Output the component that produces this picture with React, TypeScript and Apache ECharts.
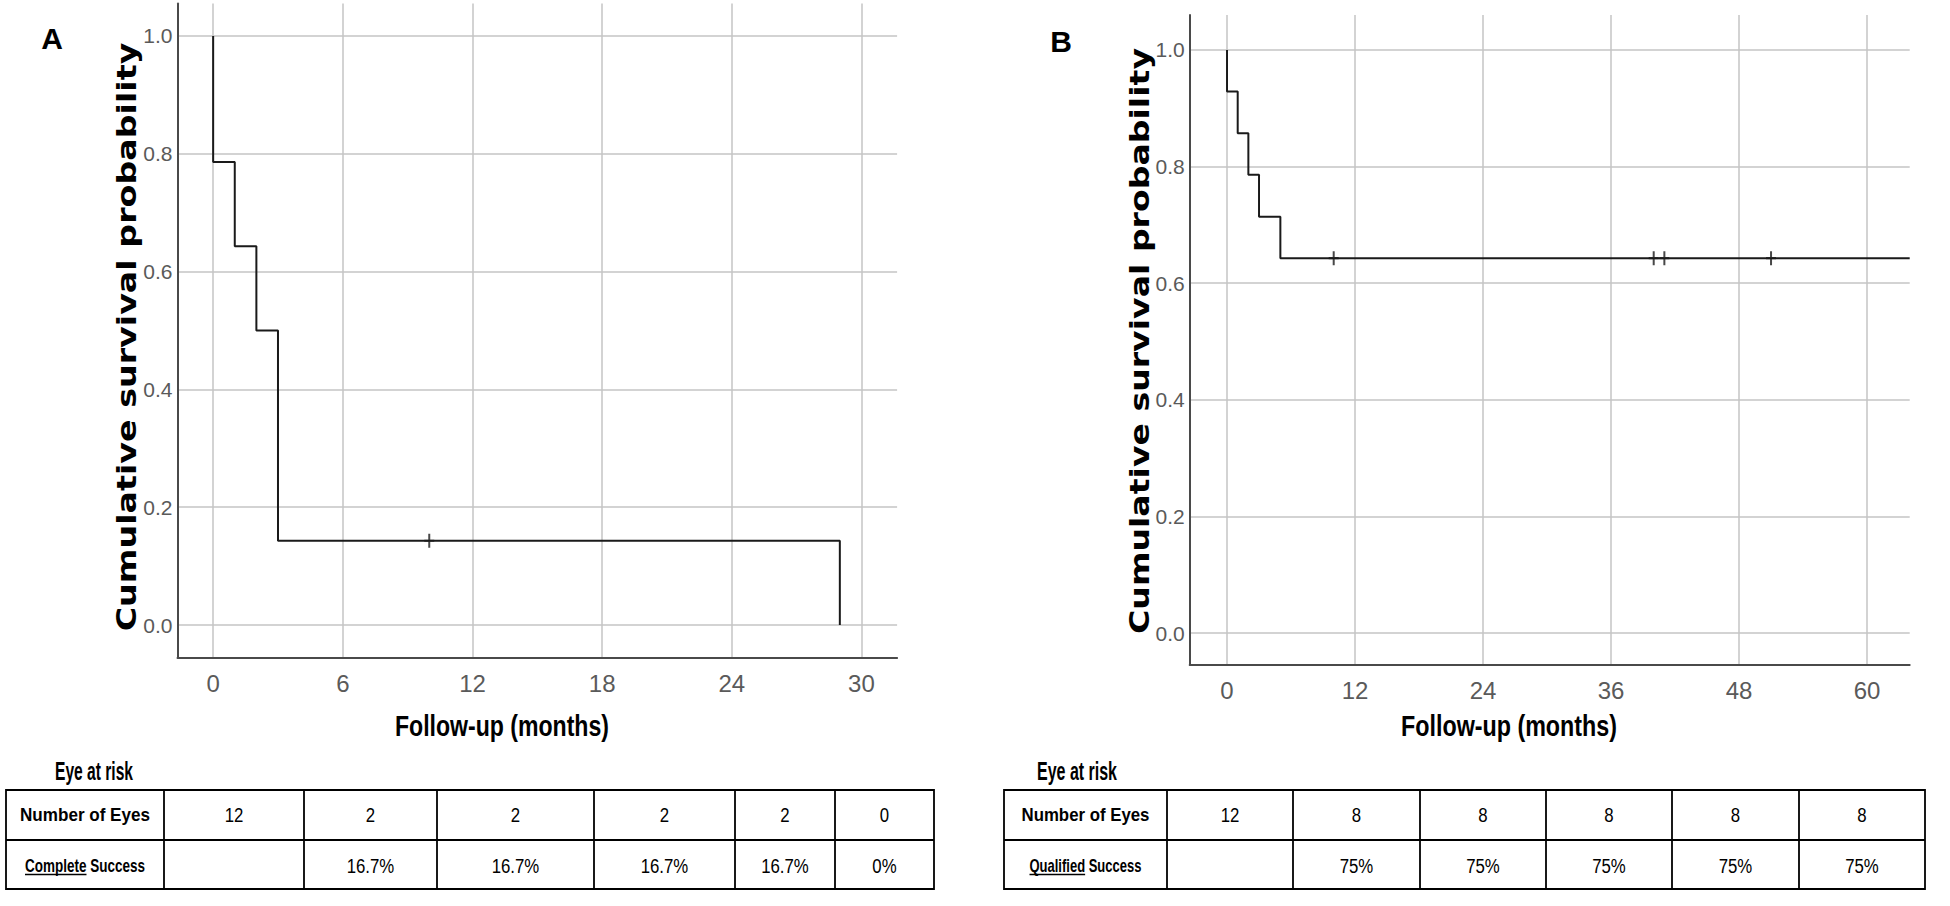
import React, { useEffect, useRef } from "react";
import * as echarts from "echarts";

// ---------- data ----------
const yTicks = [0, 0.2, 0.4, 0.6, 0.8, 1.0];
const xTicksA = [0, 6, 12, 18, 24, 30];
const xTicksB = [0, 12, 24, 36, 48, 60];

const timesA = [0, 0, 1, 2, 3, 29];
const survA = [1, 0.786, 0.643, 0.5, 0.143, 0];
const censorTimesA = [10];
const censorSurvA = [0.143];

const timesB = [0, 0, 1, 2, 3, 5, 64];
const survB = [1, 0.929, 0.857, 0.786, 0.714, 0.643, 0.643];
const censorTimesB = [10, 40, 41, 51];
const censorSurvB = [0.643, 0.643, 0.643, 0.643];

const yTitle = "Cumulative survival probability";
const xTitle = "Follow-up (months)";
const riskTitle = "Eye at risk";
const eyesLabel = "Number of Eyes";
const eyesA = ["12", "2", "2", "2", "2", "0"];
const successA = ["", "16.7%", "16.7%", "16.7%", "16.7%", "0%"];
const successLabelA = ["Complete", "Success"];
const eyesB = ["12", "8", "8", "8", "8", "8"];
const successB = ["", "75%", "75%", "75%", "75%", "75%"];
const successLabelB = ["Qualified", "Success"];

// ---------- layout / styles ----------
const colEdgesA = [6, 164, 304, 437, 594, 735, 835, 934];
const colEdgesB = [1004, 1167, 1293, 1420, 1546, 1672, 1799, 1925];

const LABEL_FAMILY = '"Liberation Sans", Arial, sans-serif';
const NARROW = '"Liberation Sans Narrow", "Liberation Sans", Arial, sans-serif';
const WIDE = '"DejaVu Sans", Verdana, sans-serif';
const GRID_COLOR = "#c4c4c4";
const AXIS_COLOR = "#4a4a4a";
const LABEL_COLOR = "#5a5a5a";
const CURVE_COLOR = "#1a1a1a";

let ctx: CanvasRenderingContext2D | null = null;
function measure(text: string, font: string): number {
  if (!ctx) ctx = document.createElement("canvas").getContext("2d");
  ctx!.font = font;
  return ctx!.measureText(text).width;
}

function zip(a: number[], b: number[]) {
  return a.map((v, i) => [v, b[i]]);
}

function fittedText(text: string, font: string, x: number, y: number, target: number, rotate = 0) {
  const w = measure(text, font);
  return {
    type: "text",
    x,
    y,
    rotation: rotate,
    scaleX: target / w,
    silent: true,
    style: { text, font, fill: "#000", align: "center", verticalAlign: "middle" },
  };
}

function buildTable(cfg: {
  edges: number[]; y0: number; yMid: number; y1: number;
  eyes: string[]; success: string[]; successLabel: string[];
  eyesW: number; successW: number;
}) {
  const els: any[] = [];
  const lw = 1.8;
  const e = cfg.edges;
  const x0 = e[0];
  const x1 = e[e.length - 1];
  els.push({
    type: "rect",
    silent: true,
    shape: { x: x0, y: cfg.y0, width: x1 - x0, height: cfg.y1 - cfg.y0 },
    style: { fill: "rgba(0,0,0,0)", stroke: "#000", lineWidth: lw },
  });
  els.push({
    type: "line",
    silent: true,
    shape: { x1: x0, y1: cfg.yMid, x2: x1, y2: cfg.yMid },
    style: { stroke: "#000", lineWidth: lw },
  });
  for (let i = 1; i < e.length - 1; i++) {
    els.push({
      type: "line",
      silent: true,
      shape: { x1: e[i], y1: cfg.y0, x2: e[i], y2: cfg.y1 },
      style: { stroke: "#000", lineWidth: lw },
    });
  }
  const r1 = (cfg.y0 + cfg.yMid) / 2;
  const r2 = (cfg.yMid + cfg.y1) / 2 + 1;
  const labelFont = `bold 18px ${LABEL_FAMILY}`;
  const valueFont = `21px ${LABEL_FAMILY}`;
  const lc = (e[0] + e[1]) / 2;
  els.push(fittedText(eyesLabel, labelFont, lc, r1, cfg.eyesW));
  // success label (first word underlined)
  const full = cfg.successLabel.join(" ");
  const fullW = measure(full, labelFont);
  const firstW = measure(cfg.successLabel[0], labelFont);
  const sx = cfg.successW / fullW;
  const xs = lc - cfg.successW / 2;
  els.push({
    type: "text", silent: true, x: xs, y: r2, scaleX: sx,
    style: { text: full, font: labelFont, fill: "#000", align: "left", verticalAlign: "middle" },
  });
  els.push({
    type: "line", silent: true,
    shape: { x1: xs, y1: r2 + 9, x2: xs + firstW * sx, y2: r2 + 9 },
    style: { stroke: "#000", lineWidth: 1.5 },
  });
  const n = cfg.eyes.length;
  for (let i = 0; i < n; i++) {
    const cx = (e[i + 1] + e[i + 2]) / 2;
    els.push({
      type: "text", silent: true, x: cx, y: r1, scaleX: 0.8,
      style: { text: cfg.eyes[i], font: valueFont, fill: "#000", align: "center", verticalAlign: "middle" },
    });
    if (cfg.success[i]) {
      els.push({
        type: "text", silent: true, x: cx, y: r2, scaleX: 0.8,
        style: { text: cfg.success[i], font: valueFont, fill: "#000", align: "center", verticalAlign: "middle" },
      });
    }
  }
  return els;
}

function xAxisCfg(grid: number, min: number, max: number, ticks: number[]) {
  return {
    gridIndex: grid,
    type: "value",
    min,
    max,
    axisLine: { show: true, onZero: false, lineStyle: { color: AXIS_COLOR, width: 2 } },
    axisTick: { show: false, customValues: ticks },
    axisLabel: { customValues: ticks, fontSize: 24, margin: 14, color: LABEL_COLOR, fontFamily: NARROW },
    splitLine: { show: true, lineStyle: { color: GRID_COLOR, width: 1.5 } },
  };
}

function yAxisCfg(grid: number, min: number, max: number) {
  return {
    gridIndex: grid,
    type: "value",
    min,
    max,
    axisLine: { show: true, onZero: false, lineStyle: { color: AXIS_COLOR, width: 2 } },
    axisTick: { show: false, customValues: yTicks },
    axisLabel: {
      customValues: yTicks,
      fontSize: 21,
      margin: 5,
      color: LABEL_COLOR,
      fontFamily: NARROW,
      formatter: (v: number) => v.toFixed(1),
    },
    splitLine: { show: true, lineStyle: { color: GRID_COLOR, width: 1.5 } },
  };
}

const censorSymbol = "path://M-1,-7H1V-1H5V1H1V7H-1V1H-5V-1H-1Z";

export default function App() {
  const ref = useRef<HTMLDivElement>(null);
  useEffect(() => {
    if (!ref.current) return;
    const chart = echarts.init(ref.current, null, { renderer: "svg" });

    const titleFontY = `bold 27px ${WIDE}`;
    const titleFontX = `bold 29px ${LABEL_FAMILY}`;
    const riskFont = `bold 25px ${LABEL_FAMILY}`;
    const panelFont = `bold 30px ${LABEL_FAMILY}`;

    const graphics: any[] = [
      { type: "text", silent: true, x: 52, y: 38, style: { text: "A", font: panelFont, fill: "#000", align: "center", verticalAlign: "middle" } },
      { type: "text", silent: true, x: 1061, y: 41, style: { text: "B", font: panelFont, fill: "#000", align: "center", verticalAlign: "middle" } },
      fittedText(yTitle, titleFontY, 127, 337, 589, Math.PI / 2),
      fittedText(yTitle, titleFontY, 1140, 341, 586, Math.PI / 2),
      fittedText(xTitle, titleFontX, 502, 726, 214),
      fittedText(xTitle, titleFontX, 1509, 726, 216),
      fittedText(riskTitle, riskFont, 94, 771, 78),
      fittedText(riskTitle, riskFont, 1077, 771, 80),
      ...buildTable({ edges: colEdgesA, y0: 790, yMid: 840, y1: 889, eyes: eyesA, success: successA, successLabel: successLabelA, eyesW: 130, successW: 120 }),
      ...buildTable({ edges: colEdgesB, y0: 790, yMid: 840, y1: 889, eyes: eyesB, success: successB, successLabel: successLabelB, eyesW: 128, successW: 112 }),
    ];

    const option: any = {
      animation: false,
      backgroundColor: "#ffffff",
      grid: [
        { left: 177.5, top: 3.6, width: 719.6, height: 653.8 },
        { left: 1189.7, top: 15, width: 720, height: 649.5 },
      ],
      xAxis: [xAxisCfg(0, -1.65, 31.65, xTicksA), xAxisCfg(1, -3.5, 64, xTicksB)],
      yAxis: [yAxisCfg(0, -0.055, 1.055), yAxisCfg(1, -0.054, 1.06)],
      series: [
        {
          type: "line", xAxisIndex: 0, yAxisIndex: 0, step: "end", symbol: "none",
          data: zip(timesA, survA), lineStyle: { color: CURVE_COLOR, width: 2 }, silent: true,
        },
        {
          type: "scatter", xAxisIndex: 0, yAxisIndex: 0, symbol: censorSymbol, symbolSize: [10, 14],
          data: zip(censorTimesA, censorSurvA), itemStyle: { color: CURVE_COLOR }, silent: true,
        },
        {
          type: "line", xAxisIndex: 1, yAxisIndex: 1, step: "end", symbol: "none",
          data: zip(timesB, survB), lineStyle: { color: CURVE_COLOR, width: 2 }, silent: true,
        },
        {
          type: "scatter", xAxisIndex: 1, yAxisIndex: 1, symbol: censorSymbol, symbolSize: [10, 14],
          data: zip(censorTimesB, censorSurvB), itemStyle: { color: CURVE_COLOR }, silent: true,
        },
      ],
      graphic: graphics,
    };
    chart.setOption(option);
    return () => chart.dispose();
  }, []);
  return (
    <div
      ref={ref}
      style={{ position: "fixed", left: 0, top: 0, width: 1950, height: 906, background: "#fff" }}
    />
  );
}
